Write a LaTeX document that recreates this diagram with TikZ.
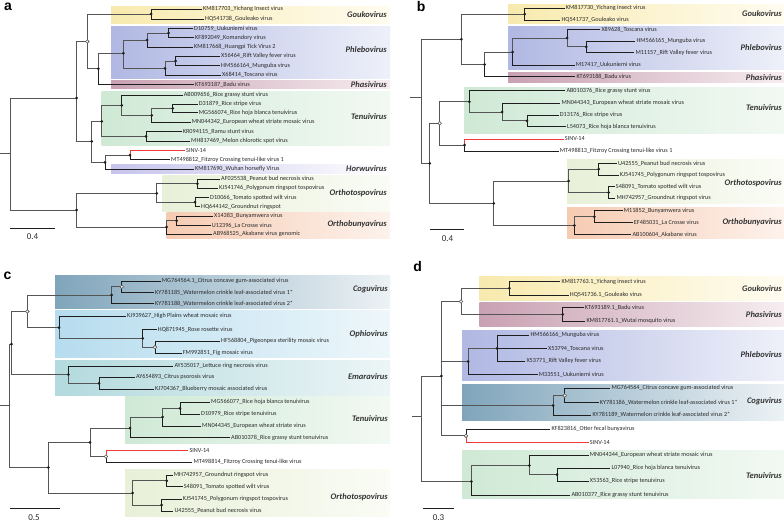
\documentclass[tikz,border=0pt]{standalone}
\usepackage{fontspec}
\setmainfont{Carlito}
\newfontfamily\panfont{Liberation Sans}
\usetikzlibrary{positioning}
\definecolor{brc}{HTML}{1E1E1E}
\definecolor{ibrc}{HTML}{555555}
\definecolor{sinv}{HTML}{F03A3A}
\definecolor{leafc}{HTML}{2A2A2A}
\definecolor{grpc}{HTML}{333333}
\definecolor{goukoL}{HTML}{F8EAAE}
\definecolor{goukoR}{HTML}{FFFCF0}
\definecolor{phleboL}{HTML}{B0B8E3}
\definecolor{phleboR}{HTML}{EEF0F9}
\definecolor{phasiL}{HTML}{C9A1B2}
\definecolor{phasiR}{HTML}{F6EDF0}
\definecolor{tenuiL}{HTML}{CFE9D5}
\definecolor{tenuiR}{HTML}{F2F9F3}
\definecolor{horwuL}{HTML}{C6C4EC}
\definecolor{horwuR}{HTML}{FFFFFF}
\definecolor{tospoL}{HTML}{E8F0D8}
\definecolor{tospoR}{HTML}{FAFCF5}
\definecolor{bunyaL}{HTML}{F6CBB2}
\definecolor{bunyaR}{HTML}{FDF2EC}
\definecolor{coguL}{HTML}{80A5BB}
\definecolor{coguR}{HTML}{ECF2F5}
\definecolor{ophioL}{HTML}{B6DCEE}
\definecolor{ophioR}{HTML}{EEF7FB}
\definecolor{emaraL}{HTML}{B3DADE}
\definecolor{emaraR}{HTML}{ECF5F6}
\begin{document}
\begin{tikzpicture}[x=1pt,y=-1pt,
  leaf/.style={anchor=west,inner sep=1pt,font=\fontsize{6.2}{7}\selectfont,text=leafc},
  grp/.style={anchor=east,inner sep=0pt,font=\fontsize{8.5}{9}\selectfont\bfseries\itshape,text=grpc},
  pan/.style={inner sep=0pt,font=\panfont\bfseries\fontsize{14}{14}\selectfont},
  sclab/.style={inner sep=0pt,font=\fontsize{9}{9}\selectfont,text=leafc},
  br/.style={draw=brc,line width=0.9pt},
  ibr/.style={draw=ibrc,line width=1pt},
  sbr/.style={draw=sinv,line width=0.9pt},
  dot/.style={fill=brc},
  odot/.style={fill=white,draw=ibrc,line width=0.6pt},
  band/.style={left color=#1L,right color=#1R},
  scl/.style={draw=brc,line width=0.8pt}]
\useasboundingbox (0,0) rectangle (784,522);

\foreach \bn/\xa/\ya/\xb/\yb in {gouko/111/6/390/23.3, phlebo/111/26/390/78.3, phasi/111/80/390/88.5,
  tenui/101.7/91.5/390/145.7, horwu/111/164.5/390/173.5, tospo/162.7/175.5/390/211.5, bunya/166.7/212.5/390/238.5,
  gouko/508/4/784/23.3, phlebo/508/26/784/69.3, phasi/508/72.3/784/82.3, tenui/464.3/87.3/784/133.3,
  tospo/567/159/784/203.3, bunya/567/207.3/784/238.3,
  cogu/55/275/390/308.3, ophio/55/310/390/357.7, emara/55/360/390/395, tenui/125/396.7/390/443.3, tospo/125/469/390/516.7,
  gouko/479.3/276/784/300.7, phasi/479.3/302.7/784/326.7, phlebo/462/330/784/380, cogu/462/384/784/420.7, tenui/462/450/784/498.3}
  \shade[band=\bn] (\xa,\ya) rectangle (\xb,\yb);

\foreach \n/\x/\y in {aS/0/153, aR/10/153, aA/76.7/98, aB/76.7/210, aGP/87.3/41.5, aGk/151/14, aPP/98.3/68.8,
  aPh/123.3/53.3, aP1/147/40, aP11/168.7/33, aP2/165/68.3, aP21/175.7/61, aTT/91.7/141.3, aT/101.7/121.3,
  aT1/121.7/105.3, aT11/151.7/115.3, aT111/172.7/108.3, aT2/146/136.3, aH/105/162.3, aHS/130/155.1,
  aOT/156.7/193.3, aOT1/197.3/183.7, aOT2/195/202.2, aOB/166.7/227, aOB1/176.7/220.7,
  bS/410.3/97, bR/421.3/97, bU/461.3/39.3, bGk/524.7/14.2, bPP/484.7/64.5, bPh/512.7/52, bP1/567/38,
  bP11/586.3/46.9, bR2/429.7/163.3, bTS/439.7/123.3, bT/469.3/101.7, bT1/502/112, bT11/527/120.9,
  bHS/464.7/145, bO/493.7/203.3, bOT/568.7/181, bOT1/598.7/169.2, bOT2/608.7/192.5, bOB/574.3/225.5, bOB1/594.3/216.7,
  cS/0/405.5, cR/9/405.5, cN1/11.5/344, cCO/27.3/311.5, cCg/111.7/295, cCg1/121.7/286.8, cOp/59/327.5,
  cOp2/142.7/338.3, cOp1/155/347.2, cEm/68.3/374.5, cEm2/99/383.3, cN2/48.3/467.5, cT/90/442.3, cTn/130/428,
  cTn1/162.7/417, cTn11/180/408.3, cHS/106/456.5, cO/132.7/493, cO1/166.7/480.8, cO2/161.7/505,
  dS/412.3/416.7, dR/421.7/416.7, dA/441.3/376, dGP/461/301.5, dGk/509.3/288.3, dPs/562.7/314.3, dPh/468/361.5,
  dPh1/497/348.3, dCg/553/405.5, dCg1/564.7/395.5, dOS/466/435.8, dT/471.3/481.5, dT1/529.3/465.5, dT11/557/474.7}
  \coordinate (\n) at (\x,\y);

\foreach \n/\x/\y/\t in {aL1/202/9/KM817703\_Yichang Insect virus, aL2/204/19/HQ541738\_Gouleako virus,
  aL3/193/28.3/D10759\_Uukuniemi virus, aL4/194/37.7/KF892049\_Komandory virus,
  aL5/193/47/KM817668\_Huangpi Tick Virus 2, aL6/220/56.3/X56464\_Rift Valley fever virus,
  aL7/220/65.7/HM566164\_Munguba virus, aL8/221/75/X68414\_Toscana virus, aL9/194/84.3/KT693187\_Badu virus,
  aL10/182.7/95/AB009656\_Rice grassy stunt virus, aL11/197.7/104/D31879\_Rice stripe virus,
  aL12/197.7/112.7/MG566074\_Rice hoja blanca tenuivirus, aL13/190.7/122.3/MN044342\_European wheat striate mosaic virus,
  aL14/181.7/131.7/KR094115\_Ramu stunt virus, aL15/190/141/MH817469\_Melon chlorotic spot virus,
  aL16/185/150.5/SINV-14, aL17/170/159.7/MT498812\_Fitzroy Crossing tenui-like virus 1,
  aL18/194/169/KM817690\_Wuhan horsefly Virus, aL19/220/179/AF025538\_Peanut bud necrosis virus,
  aL20/218/188.3/KJ541746\_Polygonum ringspot tospovirus, aL21/209/197.7/D10066\_Tomato spotted wilt virus,
  aL22/200/206.7/HQ644142\_Groundnut ringspot, aL23/213/216/X14383\_Bunyamwera virus,
  aL24/210.7/225.3/U12396\_La Crosse virus, aL25/212/234.3/AB968525\_Akabane virus genomic,
  bL1/564.7/8.3/KM817730\_Yichang insect virus, bL2/560.3/20/HQ541737\_Gouleako virus,
  bL3/600.3/29.3/X89628\_Toscana virus, bL4/635.3/41/HM566165\_Munguba virus,
  bL5/634.3/52.7/M11157\_Rift Valley fever virus, bL6/574.7/65/M17417\_Uukuniemi virus,
  bL7/575.3/76.7/KT693188\_Badu virus, bL8/565.3/90.7/AB010376\_Rice grassy stunt virus,
  bL9/560.3/103.3/MN044343\_European wheat striate mosaic virus, bL10/558.7/115/D13176\_Rice stripe virus,
  bL11/566/126.7/L54073\_Rice hoja blanca tenuivirus, bL12/563.7/139/SINV-14,
  bL13/558.7/151/MT498813\_Fitzroy Crossing tenui-like virus 1, bL14/617/163.3/U42555\_Peanut bud necrosis virus,
  bL15/618.7/175/KJ541745\_Polygonum ringspot tospovirus, bL16/614.7/186.7/S48091\_Tomato spotted wilt virus,
  bL17/615.3/198.3/MH742957\_Groundnut ringspot virus, bL18/622.7/210.7/M11852\_Bunyamwera virus,
  bL19/632.7/222.7/EF485031\_La Crosse virus, bL20/631.3/234.3/AB100604\_Akabane virus,
  cL1/160.7/281/MG764564.1\_Citrus concave gum-associated virus,
  cL2/154/292.7/KY781185\_Watermelon crinkle leaf-associated virus 1*,
  cL3/154/303.3/KY781188\_Watermelon crinkle leaf-associated virus 2*,
  cL4/126/316/KJ939627\_High Plains wheat mosaic virus, cL5/156.7/329.3/HQ871945\_Rose rosette virus,
  cL6/220/341/HF568804\_Pigeonpea sterility mosaic virus, cL7/181.7/353.3/FM992851\_Fig mosaic virus,
  cL8/173.3/366/AY535017\_Lettuce ring necrosis virus, cL9/135/377.3/AY654893\_Citrus psorosis virus,
  cL10/154/389.3/KJ704367\_Blueberry mosaic associated virus, cL11/210/402.3/MG566077\_Rice hoja blanca tenuivirus,
  cL12/200/414.3/D10979\_Rice stripe tenuivirus, cL13/201/426/MN044345\_European wheat striate virus,
  cL14/230/437.7/AB010378\_Rice grassy stunt tenuivirus, cL15/188.3/450.7/SINV-14,
  cL16/192.3/462.3/MT498814\_Fitzroy Crossing tenui-like virus, cL17/172.7/475/MH742957\_Groundnut ringspot virus,
  cL18/182.7/486.7/S48091\_Tomato spotted wilt virus, cL19/181.7/499/KJ541745\_Polygonum ringspot tospovirus,
  cL20/173.3/511/U42555\_Peanut bud necrosis virus,
  dL1/560.3/281.7/KM817763.1\_Yichang insect virus, dL2/568.7/295/HQ541736.1\_Gouleako virus,
  dL3/583.7/307.7/KT693189.1\_Badu virus, dL4/585.3/321/KM817761.1\_Wutai mosquito virus,
  dL5/529.3/335/HM566166\_Munguba virus, dL6/547/348.3/X53794\_Toscana virus,
  dL7/525.3/361/X53771\_Rift Valley fever virus, dL8/537.7/374.3/M33551\_Uukuniemi virus,
  dL9/610.3/388.3/MG764564\_Citrus concave gum-associated virus,
  dL10/598.7/402.7/KY781186\_Watermelon crinkle leaf-associated virus 1*,
  dL11/591.3/415/KY781189\_Watermelon crinkle leaf-associated virus 2*,
  dL12/550.3/429.3/KF823816\_Otter fecal bunyavirus, dL13/588.7/442.3/SINV-14,
  dL14/588.7/455/MN044344\_European wheat striate mosaic virus, dL15/610.3/468.3/L07940\_Rice hoja blanca tenuivirus,
  dL16/588.7/481/X53563\_Rice stripe tenuivirus, dL17/570.3/495/AB010377\_Rice grassy stunt tenuivirus}
  \node[leaf] (\n) at (\x,\y) {\t};

\draw[ibr] (aR) -- (aS);
\draw[ibr] (bR) -- (bS);
\draw[ibr] (cR) -- (cS);
\draw[ibr] (dR) -- (dS);
\foreach \p/\c in {aR/aA, aR/aB, aA/aGP, aA/aTT, aGP/aGk, aGP/aPP, aPP/aPh, aPh/aP1, aPh/aP2, aP1/aP11, aP2/aP21,
  aTT/aT, aTT/aH, aT/aT1, aT/aT2, aT1/aT11, aT11/aT111, aH/aHS, aB/aOT, aB/aOB, aOT/aOT1, aOT/aOT2, aOB/aOB1,
  bR/bU, bR/bR2, bU/bGk, bU/bPP, bPP/bPh, bPh/bP1, bP1/bP11, bR2/bTS, bR2/bO, bTS/bT, bTS/bHS, bT/bT1, bT1/bT11,
  bO/bOT, bO/bOB, bOT/bOT1, bOT/bOT2, bOB/bOB1,
  cR/cN1, cR/cN2, cN1/cCO, cN1/cEm, cCO/cCg, cCO/cOp, cCg/cCg1, cOp/cOp2, cOp2/cOp1, cEm/cEm2, cN2/cT, cN2/cO,
  cT/cTn, cT/cHS, cTn/cTn1, cTn1/cTn11, cO/cO1, cO/cO2,
  dR/dA, dR/dT, dA/dGP, dA/dPh, dA/dCg, dA/dOS, dGP/dGk, dGP/dPs, dPh/dPh1, dCg/dCg1, dT/dT1, dT1/dT11}
  \draw[ibr] (\p) |- (\c);
\foreach \p/\c in {aGk/aL1, aGk/aL2, aP11/aL3, aP11/aL4, aP1/aL5, aP21/aL6, aP21/aL7, aP2/aL8, aPP/aL9, aT1/aL10,
  aT111/aL11, aT111/aL12, aT11/aL13, aT2/aL14, aT2/aL15, aHS/aL17, aH/aL18, aOT1/aL19, aOT1/aL20, aOT2/aL21,
  aOT2/aL22, aOB1/aL23, aOB1/aL24, aOB/aL25,
  bGk/bL1, bGk/bL2, bP1/bL3, bP11/bL4, bP11/bL5, bPh/bL6, bPP/bL7, bT/bL8, bT1/bL9, bT11/bL10, bT11/bL11,
  bHS/bL13, bOT1/bL14, bOT1/bL15, bOT2/bL16, bOT2/bL17, bOB1/bL18, bOB1/bL19, bOB/bL20,
  cCg1/cL1, cCg1/cL2, cCg/cL3, cOp/cL4, cOp2/cL5, cOp1/cL6, cOp1/cL7, cEm/cL8, cEm2/cL9, cEm2/cL10,
  cTn11/cL11, cTn11/cL12, cTn1/cL13, cTn/cL14, cHS/cL16, cO1/cL17, cO1/cL18, cO2/cL19, cO2/cL20,
  dGk/dL1, dGk/dL2, dPs/dL3, dPs/dL4, dPh1/dL5, dPh1/dL6, dPh1/dL7, dPh/dL8, dCg1/dL9, dCg1/dL10, dCg/dL11,
  dOS/dL12, dT1/dL14, dT11/dL15, dT11/dL16, dT/dL17}
  \draw[br] (\p) |- (\c);
\foreach \p/\c in {aHS/aL16, bHS/bL12, cHS/cL15, dOS/dL13}
  \draw[sbr] (\p) |- (\c);

\foreach \n in {aA, aB, aGk, aPP, aPh, aP1, aP11, aP2, aP21, aTT, aT, aT1, aT11, aT111, aT2, aH, aHS, aOT, aOT1,
  aOT2, aOB, aOB1, bU, bGk, bPP, bPh, bP1, bP11, bR2, bT, bT1, bT11, bHS, bO, bOT, bOT1, bOT2, bOB, bOB1,
  cN1, cCg, cOp, cOp2, cEm, cEm2, cN2, cT, cTn, cTn1, cTn11, cO, cO1, cO2,
  dA, dGk, dPs, dPh, dPh1, dCg, dT, dT1, dT11}
  \fill[dot] (\n) circle (1.5pt);
\foreach \n in {aGP, bTS, cCO, cCg1, cOp1, cHS, dGP, dOS, dCg1}
  \filldraw[odot] (\n) circle (1.8pt);

\foreach \n/\x/\y/\t in {agl1/387/15/Goukovirus, agl2/387/50/Phlebovirus, agl3/387/84.3/Phasivirus,
  agl4/387/117/Tenuivirus, agl5/387/169/Horwuvirus, agl6/387/193.3/Orthotospovirus, agl7/387/224.3/Orthobunyavirus,
  bgl1/782/14/Goukovirus, bgl2/782/47.3/Phlebovirus, bgl3/782/77.3/Phasivirus, bgl4/782/107.7/Tenuivirus,
  bgl5/782/182.7/Orthotospovirus, bgl6/782/222.3/Orthobunyavirus,
  cgl1/388/289.3/Coguvirus, cgl2/388/334/Ophiovirus, cgl3/388/376.7/Emaravirus, cgl4/388/418.3/Tenuivirus,
  cgl5/388/496.7/Orthotospovirus,
  dgl1/782/288.3/Goukovirus, dgl2/782/315/Phasivirus, dgl3/782/354.3/Phlebovirus, dgl4/782/401/Coguvirus,
  dgl5/782/476/Tenuivirus}
  \node[grp] (\n) at (\x,\y) {\t};

\node[pan] (pa) at (8,6.4) {a};
\node[pan] (pb) at (421.2,6.7) {b};
\node[pan] (pc) at (7.5,275.5) {c};
\node[pan] (pd) at (417.7,266.7) {d};

\coordinate (sa1) at (10,228.3);
\coordinate (sa2) at (55,228.3);
\coordinate (sb1) at (429.7,229.3);
\coordinate (sb2) at (463.7,229.3);
\coordinate (sc1) at (10,508.3);
\coordinate (sc2) at (60,508.3);
\coordinate (sd1) at (422.7,508.3);
\coordinate (sd2) at (453.7,508.3);
\draw[scl] (sa1) -- (sa2);
\draw[scl] (sb1) -- (sb2);
\draw[scl] (sc1) -- (sc2);
\draw[scl] (sd1) -- (sd2);
\node[sclab] (sat) at (32.5,237) {0.4};
\node[sclab] (sbt) at (447.5,238.3) {0.4};
\node[sclab] (sct) at (34,517.3) {0.5};
\node[sclab] (sdt) at (438.5,517.3) {0.3};
\end{tikzpicture}
\end{document}
